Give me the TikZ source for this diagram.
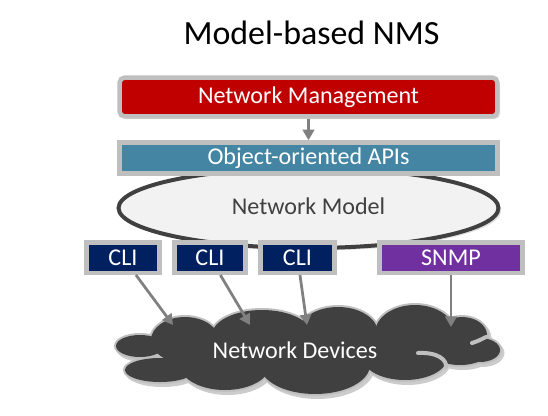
\documentclass[tikz,border=0pt]{standalone}
\usepackage{fontspec}
\setmainfont{Carlito}
\usetikzlibrary{shapes.geometric,arrows.meta,shadows}

\definecolor{nmred}{HTML}{C00000}
\definecolor{apiteal}{HTML}{4385A3}
\definecolor{cliblue}{HTML}{002060}
\definecolor{snmppurple}{HTML}{7030A0}
\definecolor{boxgray}{HTML}{BFBFBF}
\definecolor{darkgray}{HTML}{404040}
\definecolor{modelfill}{HTML}{F2F2F2}
\definecolor{flowgray}{HTML}{808080}

% puffs of the device cloud: x/y/x radius/y radius
\def\puffs{185/340/34/23, 262/335/50/25, 338/333/40/26, 415/333/40/28,
  462/335/25/18, 480/350/20/12, 460/350/30/15, 405/358/42/22,
  315/365/55/29, 225/365/45/25, 160/370/35/12, 140/346/24/11, 308/348/140/24}

\begin{document}
\begin{tikzpicture}[x=0.02cm, y=-0.02cm,
    every node/.style={font=\fontsize{13.7}{16}\selectfont, inner sep=0pt},
    layerbox/.style={draw=boxgray, line width=0.09cm, text=white,
      drop shadow={shadow xshift=1.5pt, shadow yshift=-1.5pt, opacity=0.25}},
    protobox/.style={layerbox, minimum height=0.61cm},
    flow/.style={draw=flowgray, line width=0.055cm, -{Triangle[length=6pt,width=6.5pt]}}]
      \useasboundingbox (0,0) rectangle (548,416);
      \node[anchor=base] (title) at (311.5,44) {\fontsize{19.3}{23}\selectfont Model-based NMS};
      % model layer
      \node[ellipse, draw=darkgray, fill=modelfill, line width=0.08cm, text=darkgray,
            minimum width=7.6cm, minimum height=1.6cm,
            drop shadow={shadow xshift=1.5pt, shadow yshift=-1.5pt, opacity=0.25}] (model) at (308.5,208) {};
      \node[text=darkgray] (modeltext) at (308.5,206) {Network Model};
      \node[layerbox, fill=apiteal, minimum width=7.56cm, minimum height=0.62cm] (api) at (308.5,158) {Object-oriented APIs};
      \node[layerbox, fill=nmred, rounded corners=3pt, minimum width=7.56cm, minimum height=0.78cm] (nm) at (308.5,97) {Network Management};
      \draw[flow] (nm) -- (api);
      % devices cloud: shadow, rim, body
      \foreach \cx/\cy/\rx/\ry in \puffs
        \fill[black!20] (\cx+2.5,\cy+3) ellipse[x radius=\rx+2, y radius=\ry+2];
      \foreach \cx/\cy/\rx/\ry in \puffs
        \draw[boxgray, line width=0.08cm] (\cx,\cy) ellipse[x radius=\rx, y radius=\ry];
      \foreach \cx/\cy/\rx/\ry in \puffs
        \fill[darkgray] (\cx,\cy) ellipse[x radius=\rx, y radius=\ry];
      \draw[boxgray, line width=0.08cm, line cap=round] (418,353) .. controls (438,352) and (447,360) .. (446,367);
      \draw[boxgray, line width=0.08cm, line cap=round] (472,343) .. controls (478,341) .. (486,337);
      \node[text=white] (dev) at (295,350) {Network Devices};
      \node[protobox, fill=cliblue, minimum width=1.47cm] (cli1) at (123,257.5) {CLI};
      \node[protobox, fill=cliblue, minimum width=1.43cm] (cli2) at (210,257.5) {CLI};
      \node[protobox, fill=cliblue, minimum width=1.49cm] (cli3) at (297.5,257.5) {CLI};
      \node[protobox, fill=snmppurple, minimum width=2.87cm] (snmp) at (451,257.5) {SNMP};
      \coordinate (in1) at (173,325);
      \coordinate (in2) at (250,325);
      \coordinate (in3) at (307,325);
      \coordinate (in4) at (451,327);
      \draw[flow] (cli1) -- (in1);
      \draw[flow] (cli2) -- (in2);
      \draw[flow] (cli3) -- (in3);
      \draw[flow] (snmp) -- (in4);
\end{tikzpicture}
\end{document}
